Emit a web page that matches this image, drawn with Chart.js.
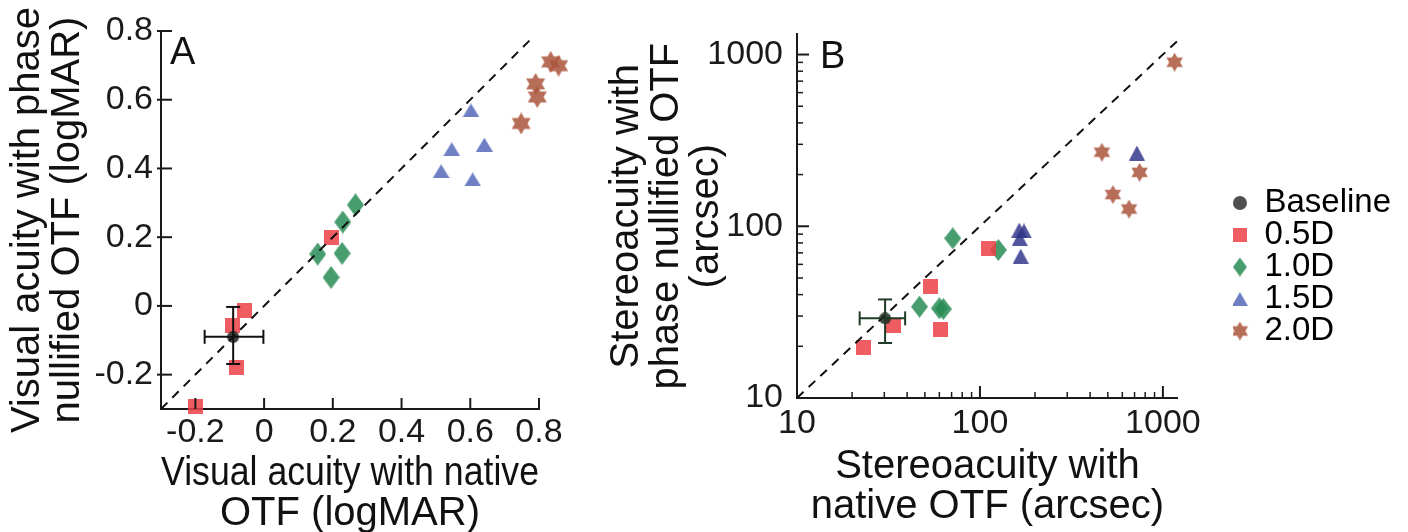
<!DOCTYPE html>
<html>
<head>
<meta charset="utf-8">
<script src="https://cdn.jsdelivr.net/npm/chart.js@4.4.0/dist/chart.umd.min.js"></script>
<style>
  body { margin: 0; background: #fff; width: 1408px; height: 532px; overflow: hidden; position: relative; }
  canvas { position: absolute; top: 0; }
  #chartA { left: 0; }
  #chartB { left: 600px; }
</style>
</head>
<body>
<canvas id="chartA" width="600" height="532"></canvas>
<canvas id="chartB" width="808" height="532"></canvas>
<script>
// groups shown in the legend
const groups = ['Baseline', '0.5D', '1.0D', '1.5D', '2.0D'];

// Panel A - visual acuity (logMAR), native OTF (x) vs phase nullified OTF (y)
const acuityNativeBase = [-0.09];
const acuityPhaseBase = [-0.09];
const acuityNativeBaseErr = [[-0.173, -0.002]];
const acuityPhaseBaseErr = [[-0.169, -0.003]];
const acuityNative05 = [-0.056, -0.093, -0.080, -0.200, 0.196];
const acuityPhase05 = [-0.014, -0.057, -0.180, -0.292, 0.199];
const acuityNative10 = [0.156, 0.227, 0.195, 0.229, 0.266];
const acuityPhase10 = [0.151, 0.153, 0.083, 0.244, 0.294];
const acuityNative15 = [0.602, 0.546, 0.641, 0.515, 0.607];
const acuityPhase15 = [0.569, 0.456, 0.469, 0.392, 0.368];
const acuityNative20 = [0.834, 0.857, 0.790, 0.795, 0.748];
const acuityPhase20 = [0.710, 0.699, 0.646, 0.608, 0.531];
const acuityIdentity = [-0.3, 0.78];
const acuityTicks = [-0.2, 0, 0.2, 0.4, 0.6, 0.8];

// Panel B - stereoacuity (arcsec), log axes
const stereoNativeBase = [30.3];
const stereoPhaseBase = [29.1];
const stereoNativeBaseErr = [[22.0, 39.0]];
const stereoPhaseBaseErr = [[20.9, 37.5]];
const stereoNative05 = [23.1, 33.7, 53.4, 60.5, 111];
const stereoPhase05 = [19.7, 26.4, 44.8, 25.0, 74.5];
const stereoNative10 = [71.0, 46.7, 60.0, 63.1, 126];
const stereoPhase10 = [85.1, 34.0, 33.3, 33.0, 72.8];
const stereoNative15 = [164, 174, 165, 167, 721];
const stereoPhase15 = [95, 94, 85, 67, 267];
const stereoNative20 = [1159, 464, 746, 533, 653];
const stereoPhase20 = [902, 270, 206, 153, 126];
const stereoIdentity = [10, 1230];
const stereoTicks = [10, 100, 1000];
const stereoMinorTicks = [20, 30, 40, 50, 60, 70, 80, 90, 200, 300, 400, 500, 600, 700, 800, 900];

Chart.defaults.font.family = "'Liberation Sans', Arial, sans-serif";
Chart.defaults.color = '#1a1a1a';

const pts = (xs, ys) => xs.map((x, i) => ({x, y: ys[i]}));

// little canvases used as marker shapes
function sprite(w, h, draw) {
  const c = document.createElement('canvas');
  c.width = w; c.height = h;
  const g = c.getContext('2d');
  draw(g, w, h);
  return c;
}
const dot = (color, d) => sprite(d, d, g => {
  g.fillStyle = color; g.beginPath(); g.arc(d / 2, d / 2, d / 2, 0, Math.PI * 2); g.fill();
});
const square = (color, s) => sprite(s, s, g => { g.fillStyle = color; g.fillRect(0, 0, s, s); });
const diamond = (color, w, h) => sprite(w, h, g => {
  g.fillStyle = color; g.beginPath();
  g.moveTo(w / 2, 0); g.lineTo(w, h / 2); g.lineTo(w / 2, h); g.lineTo(0, h / 2);
  g.closePath(); g.fill();
});
const triangle = (color, w, h) => sprite(w, h, g => {
  g.fillStyle = color; g.beginPath();
  g.moveTo(w / 2, 0); g.lineTo(w, h); g.lineTo(0, h); g.closePath(); g.fill();
});
const hexagram = (color, d) => sprite(d, d, g => {
  const r = d / 2;
  g.fillStyle = color; g.beginPath();
  [-90, 90].forEach(a0 => {
    for (let k = 0; k < 3; k++) {
      const a = (a0 + k * 120) * Math.PI / 180;
      const px = r + r * Math.cos(a), py = r + r * Math.sin(a);
      k === 0 ? g.moveTo(px, py) : g.lineTo(px, py);
    }
    g.closePath();
  });
  g.fill('nonzero');
});

const RED = 'rgba(236,64,70,0.85)';
const GREEN = 'rgba(40,140,85,0.85)';
const BLUE = 'rgba(85,105,185,0.85)';
const NAVY = 'rgba(50,55,140,0.85)';
const BROWN = 'rgba(170,85,60,0.85)';

const markersA = [dot('rgba(30,30,30,0.85)', 12), square(RED, 15), diamond(GREEN, 17, 23),
  triangle(BLUE, 17, 14), hexagram(BROWN, 22)];
const markersB = [dot('rgba(25,45,30,0.85)', 12), square(RED, 15), diamond(GREEN, 17, 22),
  triangle(NAVY, 16, 15), hexagram(BROWN, 19)];
const markersLegend = [dot('rgba(60,60,60,0.9)', 14), square(RED, 14), diamond(GREEN, 14, 19),
  triangle(BLUE, 16, 14), hexagram(BROWN, 19)];

// ticks drawn inside the plot, like the original figure
const inwardTicks = {
  id: 'inwardTicks',
  afterDraw(chart, args, opts) {
    const {ctx, chartArea} = chart;
    const xs = chart.scales.x, ys = chart.scales.y;
    ctx.save();
    ctx.strokeStyle = '#1a1a1a';
    ctx.lineWidth = 2;
    const tick = (x1, y1, x2, y2) => { ctx.beginPath(); ctx.moveTo(x1, y1); ctx.lineTo(x2, y2); ctx.stroke(); };
    opts.major.forEach(v => {
      const px = xs.getPixelForValue(v), py = ys.getPixelForValue(v);
      tick(px, chartArea.bottom, px, chartArea.bottom - opts.majorLen);
      tick(chartArea.left - opts.outLen, py, chartArea.left + opts.majorLen, py);
    });
    ctx.lineWidth = 1.5;
    (opts.minor || []).forEach(v => {
      const px = xs.getPixelForValue(v), py = ys.getPixelForValue(v);
      tick(px, chartArea.bottom, px, chartArea.bottom - opts.minorLen);
      tick(chartArea.left, py, chartArea.left + opts.minorLen, py);
    });
    ctx.restore();
  }
};

const errorBars = {
  id: 'errorBars',
  afterDatasetsDraw(chart, args, opts) {
    const {ctx} = chart;
    const xs = chart.scales.x, ys = chart.scales.y;
    ctx.save();
    ctx.strokeStyle = opts.color;
    ctx.lineWidth = 2;
    const line = (x1, y1, x2, y2) => { ctx.beginPath(); ctx.moveTo(x1, y1); ctx.lineTo(x2, y2); ctx.stroke(); };
    opts.x.forEach((xv, i) => {
      const px = xs.getPixelForValue(xv), py = ys.getPixelForValue(opts.y[i]);
      const xl = xs.getPixelForValue(opts.xErr[i][0]), xh = xs.getPixelForValue(opts.xErr[i][1]);
      const yl = ys.getPixelForValue(opts.yErr[i][0]), yh = ys.getPixelForValue(opts.yErr[i][1]);
      const c = opts.cap;
      line(xl, py, xh, py);
      line(xl, py - c, xl, py + c);
      line(xh, py - c, xh, py + c);
      line(px, yl, px, yh);
      line(px - c, yl, px + c, yl);
      line(px - c, yh, px + c, yh);
    });
    ctx.restore();
  }
};

const panelLetter = {
  id: 'panelLetter',
  afterDraw(chart, args, opts) {
    const {ctx, chartArea} = chart;
    ctx.save();
    ctx.font = "38px 'Liberation Sans', Arial, sans-serif";
    ctx.fillStyle = '#111';
    ctx.textBaseline = 'top';
    ctx.fillText(opts.text, chartArea.left + opts.dx, chartArea.top + opts.dy);
    ctx.restore();
  }
};

const tickFont = {size: 34};
const titleFont = {size: 40, lineHeight: 1.0};

function scatterSets(series, markers) {
  return series.map((s, i) => ({
    label: groups[i],
    data: s,
    pointStyle: markers[i],
    pointRadius: 8,
    pointHoverRadius: 30,
    clip: false
  }));
}

function identitySet(vals) {
  return {
    type: 'line',
    label: 'identity',
    data: vals.map(v => ({x: v, y: v})),
    borderColor: '#111',
    borderWidth: 2,
    borderDash: [9, 7],
    pointRadius: 0,
    clip: false
  };
}

// ---------- Panel A ----------
new Chart(document.getElementById('chartA'), {
  type: 'scatter',
  data: {
    datasets: [identitySet(acuityIdentity)].concat(scatterSets([
      pts(acuityNativeBase, acuityPhaseBase),
      pts(acuityNative05, acuityPhase05),
      pts(acuityNative10, acuityPhase10),
      pts(acuityNative15, acuityPhase15),
      pts(acuityNative20, acuityPhase20)
    ], markersA))
  },
  options: {
    responsive: false,
    animation: false,
    layout: {padding: {left: 0, top: 25, right: 61, bottom: 0}},
    plugins: {
      legend: {display: false},
      tooltip: {enabled: false},
      inwardTicks: {major: acuityTicks, majorLen: 11, outLen: 4},
      errorBars: {x: acuityNativeBase, y: acuityPhaseBase, xErr: acuityNativeBaseErr,
        yErr: acuityPhaseBaseErr, color: '#111', cap: 7},
      panelLetter: {text: 'A', dx: 9, dy: 4}
    },
    scales: {
      x: {
        type: 'linear', min: -0.3, max: 0.8,
        afterFit: s => { s.height = 123; },
        afterBuildTicks: s => { s.ticks = acuityTicks.map(v => ({value: v})); },
        ticks: {font: tickFont, padding: 3, autoSkip: false, maxRotation: 0, callback: v => String(v)},
        grid: {display: false, drawTicks: false},
        border: {color: '#1a1a1a', width: 2},
        title: {display: true, text: ['Visual acuity with native', 'OTF (logMAR)'],
          font: titleFont, color: '#111', padding: {top: 0, bottom: -2}}
      },
      y: {
        type: 'linear', min: -0.3, max: 0.8,
        afterFit: s => { s.width = 161; },
        afterBuildTicks: s => { s.ticks = acuityTicks.map(v => ({value: v})); },
        ticks: {font: tickFont, padding: 8, autoSkip: false, callback: v => String(v)},
        grid: {display: false, drawTicks: false},
        border: {color: '#1a1a1a', width: 2},
        title: {display: true, text: ['Visual acuity with phase', 'nullified OTF (logMAR)'],
          font: titleFont, color: '#111', padding: {top: 8, bottom: 0}}
      }
    }
  },
  plugins: [inwardTicks, errorBars, panelLetter]
});

// ---------- Panel B ----------
new Chart(document.getElementById('chartB'), {
  type: 'scatter',
  data: {
    datasets: [identitySet(stereoIdentity)].concat(scatterSets([
      pts(stereoNativeBase, stereoPhaseBase),
      pts(stereoNative05, stereoPhase05),
      pts(stereoNative10, stereoPhase10),
      pts(stereoNative15, stereoPhase15),
      pts(stereoNative20, stereoPhase20)
    ], markersB))
  },
  options: {
    responsive: false,
    animation: false,
    layout: {padding: {left: 0, top: 18, right: 7, bottom: 16}},
    plugins: {
      legend: {
        display: true,
        position: 'right',
        maxWidth: 240,
        labels: {
          usePointStyle: true,
          boxWidth: 16,
          boxHeight: 16,
          padding: -1,
          color: '#111',
          font: {size: 33},
          generateLabels: () => groups.map((g, i) => ({
            text: g,
            pointStyle: markersLegend[i],
            fillStyle: 'transparent',
            strokeStyle: 'transparent',
            lineWidth: 0,
            hidden: false,
            datasetIndex: i + 1
          }))
        }
      },
      tooltip: {enabled: false},
      inwardTicks: {major: stereoTicks, minor: stereoMinorTicks, majorLen: 12, minorLen: 6, outLen: 0},
      errorBars: {x: stereoNativeBase, y: stereoPhaseBase, xErr: stereoNativeBaseErr,
        yErr: stereoPhaseBaseErr, color: '#1f3a25', cap: 7},
      panelLetter: {text: 'B', dx: 23, dy: 4}
    },
    scales: {
      x: {
        type: 'logarithmic', min: 10, max: 1208,
        afterFit: s => { s.height = 118; },
        afterBuildTicks: s => { s.ticks = stereoTicks.map(v => ({value: v})); },
        ticks: {font: tickFont, padding: 5, autoSkip: false, maxRotation: 0, callback: v => String(v)},
        grid: {display: false, drawTicks: false},
        border: {color: '#1a1a1a', width: 2},
        title: {display: true, text: ['Stereoacuity with', 'native OTF (arcsec)'],
          font: titleFont, color: '#111', padding: {top: 0, bottom: -11}}
      },
      y: {
        type: 'logarithmic', min: 10, max: 1310,
        afterFit: s => { s.width = 197; },
        afterBuildTicks: s => { s.ticks = stereoTicks.map(v => ({value: v})); },
        ticks: {font: tickFont, padding: 14, autoSkip: false, callback: v => String(v)},
        grid: {display: false, drawTicks: false},
        border: {color: '#1a1a1a', width: 2},
        title: {display: true, text: ['Stereoacuity with', 'phase nullified OTF', '(arcsec)'],
          font: titleFont, color: '#111', padding: {top: 7, bottom: 0}}
      },
      // empty strip between the plot and the legend
      gap: {
        type: 'linear', position: 'right', display: true,
        afterFit: s => { s.width = 55; },
        ticks: {display: false},
        grid: {display: false, drawTicks: false},
        border: {display: false}
      }
    }
  },
  plugins: [inwardTicks, errorBars, panelLetter]
});
</script>
</body>
</html>
